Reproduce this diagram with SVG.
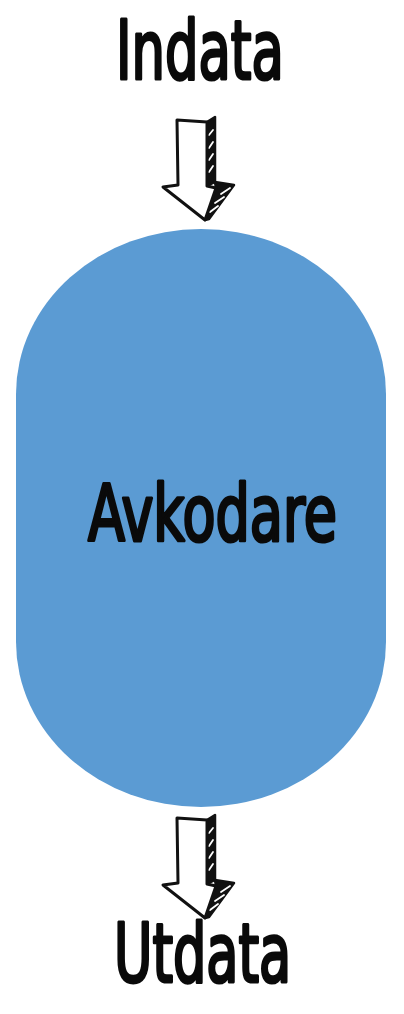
<svg xmlns="http://www.w3.org/2000/svg" xmlns:xlink="http://www.w3.org/1999/xlink" width="404" height="1014" viewBox="0 0 404 1014">
<style>
.lbl{font-family:"DejaVu Sans Condensed","DejaVu Sans",sans-serif;fill:#0a0a0a;stroke:#0a0a0a;stroke-width:3.2;stroke-linejoin:round}
.face{fill:#fff;stroke:#111;stroke-width:3;stroke-linejoin:round}
.side{fill:#111;stroke:#111;stroke-width:2.5;stroke-linejoin:round}
.hatch{stroke:#fff;stroke-width:1.8;stroke-linecap:round}
</style>
<defs>
<g id="arrow">
<path class="side" d="M207,122 L215,117 L215,182 L207,186 Z"/>
<path class="side" d="M216,188 L215,182 L234,185 L209,219 L205,220 Z"/>
<path class="hatch" d="M209,135 L213,130 M209,148 L213,142 M209,160 L213,154 M209,172 L213,166 M221,194 L230,188 M215,203 L224,197 M210,212 L218,206"/>
<path class="face" d="M177,120 L207,122 L207,186 L216,188 L205,220 L163,187 L178,185 Z"/>
</g>
</defs>
<rect width="404" height="1014" fill="#fff"/>
<g id="connectors">
<use id="arrow-in" xlink:href="#arrow"/>
<use id="arrow-out" xlink:href="#arrow" transform="translate(0,698)"/>
</g>
<g id="node-indata">
<text class="lbl" transform="translate(116,79) scale(0.72,1)" x="0" y="0" font-size="82" textLength="233" lengthAdjust="spacingAndGlyphs">Indata</text>
</g>
<g id="node-avkodare">
<rect x="16" y="229" width="370" height="578" rx="185" ry="165" fill="#5b9bd3"/>
<text class="lbl" transform="translate(88,541) scale(0.75,1)" x="0" y="0" font-size="78" textLength="332" lengthAdjust="spacingAndGlyphs">Avkodare</text>
</g>
<g id="node-utdata">
<text class="lbl" transform="translate(114,982) scale(0.72,1)" x="0" y="0" font-size="82" textLength="246" lengthAdjust="spacingAndGlyphs">Utdata</text>
</g>
</svg>
